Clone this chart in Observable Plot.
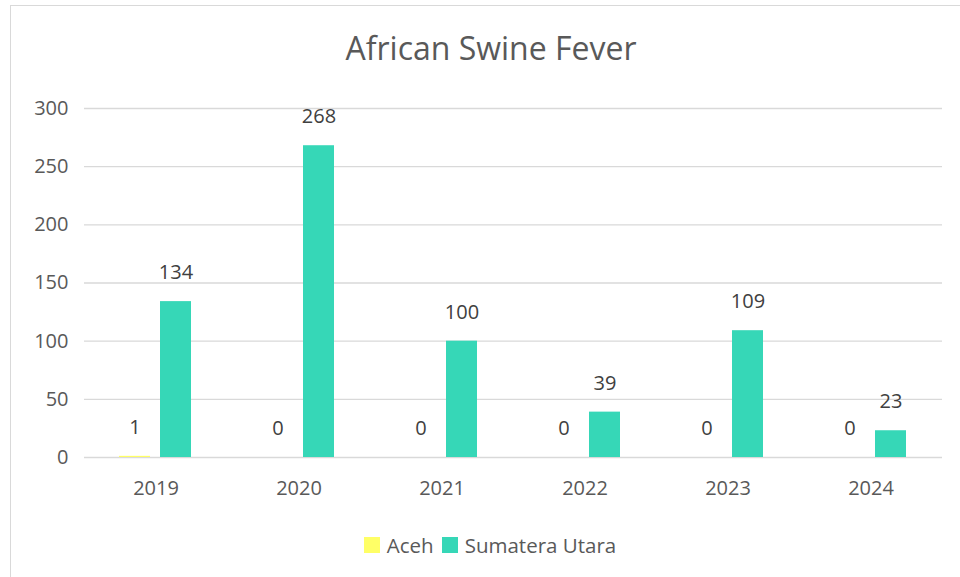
<!DOCTYPE html>
<html>
<head>
<meta charset="utf-8">
<script src="https://cdn.jsdelivr.net/npm/d3@7"></script>
<script src="https://cdn.jsdelivr.net/npm/@observablehq/plot@0.6"></script>
<style>
  html, body { margin: 0; padding: 0; background: #fff; width: 960px; height: 577px; overflow: hidden; }
  body { position: relative; font-family: "Open Sans", sans-serif; }
  #frame { position: absolute; left: 10px; top: 5px; width: 1000px; height: 700px; border: 1.5px solid #d9d9d9; box-sizing: border-box; }
  #title { position: absolute; left: 0; width: 982px; top: 27px; text-align: center; font-size: 32px; color: #595959; line-height: 42px; }
  #chart { position: absolute; left: 0; top: 80px; }
  #legend { position: absolute; top: 530px; left: 0; width: 980px; display: flex; justify-content: center; align-items: center; font-size: 20.5px; color: #595959; line-height: 30px; }
  .item { display: flex; align-items: center; margin: 0 4px; }
  .sw { width: 16px; height: 16px; margin-right: 7px; }
</style>
</head>
<body>
<div id="frame"></div>
<div id="title">African Swine Fever</div>
<div id="chart"></div>
<div id="legend"></div>
<script>
const years = ["2019", "2020", "2021", "2022", "2023", "2024"];
const regions = ["Aceh", "Sumatera Utara"];
const aceh = [1, 0, 0, 0, 0, 0];
const sumut = [134, 268, 100, 39, 109, 23];
const colors = ["#ffff66", "#36d7b7"];
const yTicks = [0, 50, 100, 150, 200, 250, 300];

const data = [];
years.forEach((y, i) => {
  data.push({year: y, region: regions[0], value: aceh[i]});
  data.push({year: y, region: regions[1], value: sumut[i]});
});

const chart = Plot.plot({
  width: 960,
  height: 430,
  marginLeft: 82,
  marginRight: 17,
  marginTop: 28,
  marginBottom: 53,
  style: {fontFamily: "Open Sans, sans-serif", fontSize: "20px", color: "#595959", background: "transparent"},
  fx: {domain: years, padding: 0, label: null, axis: "bottom", tickSize: 0, tickPadding: 23},
  x: {domain: regions, paddingInner: 0.238, paddingOuter: 0.827, axis: null},
  y: {domain: [0, 300], ticks: yTicks, label: null, tickSize: 0, tickPadding: 16},
  color: {domain: regions, range: colors},
  marks: [
    Plot.gridY(yTicks, {stroke: "#d9d9d9", strokeOpacity: 1, strokeWidth: 1.3}),
    Plot.barY(data, {fx: "year", x: "region", y: "value", fill: "region"}),
    Plot.text(data, {fx: "year", x: "region", y: "value", text: d => String(d.value), dy: -29, fill: "#404040", fontSize: 20})
  ]
});
document.getElementById("chart").appendChild(chart);

const legend = document.getElementById("legend");
regions.forEach((r, i) => {
  const it = document.createElement("div");
  it.className = "item";
  const sw = document.createElement("span");
  sw.className = "sw";
  sw.style.background = colors[i];
  it.appendChild(sw);
  const t = document.createElement("span");
  t.textContent = r;
  it.appendChild(t);
  legend.appendChild(it);
});
</script>
</body>
</html>
